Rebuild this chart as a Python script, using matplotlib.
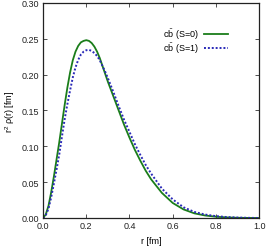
"""r^2 rho(r) density profiles for the two spin states."""

import matplotlib
matplotlib.use("Agg")
import matplotlib.pyplot as plt

plt.rcParams["font.family"] = ["Liberation Sans", "DejaVu Sans"]
plt.rcParams["mathtext.fontset"] = "custom"
plt.rcParams["mathtext.rm"] = "Liberation Sans"
plt.rcParams["mathtext.it"] = "Liberation Sans:italic"

r_fm = [0.0, 0.0125, 0.025, 0.0375, 0.05, 0.0625, 0.075, 0.0875, 0.1, 0.1125,
        0.125, 0.1375, 0.15, 0.1625, 0.175, 0.1875, 0.2, 0.2125, 0.225,
        0.2375, 0.25, 0.2625, 0.275, 0.2875, 0.3, 0.325, 0.35, 0.375, 0.4,
        0.425, 0.45, 0.475, 0.5, 0.55, 0.6, 0.65, 0.7, 0.75, 0.8, 0.85, 0.9,
        0.95, 1.0]

density_s0 = [0.0, 0.005, 0.017, 0.036, 0.058, 0.082, 0.106, 0.132, 0.158,
              0.182, 0.203, 0.220, 0.232, 0.240, 0.245, 0.247, 0.248, 0.247,
              0.244, 0.239, 0.232, 0.223, 0.212, 0.201, 0.190, 0.170, 0.150,
              0.130, 0.112, 0.095, 0.080, 0.066, 0.054, 0.035, 0.021, 0.012,
              0.0065, 0.0035, 0.0018, 0.0008, 0.0003, 0.0001, 0.0]

density_s1 = [0.0, 0.004, 0.013, 0.029, 0.048, 0.068, 0.089, 0.114, 0.138,
              0.159, 0.178, 0.196, 0.210, 0.2205, 0.228, 0.232, 0.234, 0.2345,
              0.233, 0.230, 0.226, 0.220, 0.212, 0.204, 0.195, 0.176, 0.156,
              0.137, 0.120, 0.103, 0.088, 0.074, 0.062, 0.041, 0.026, 0.015,
              0.0085, 0.0048, 0.0026, 0.0013, 0.0006, 0.0002, 0.0]

labels = ["c$\\bar{\\rm b}$ (S=0)", "c$\\bar{\\rm b}$ (S=1)"]

fig = plt.figure(figsize=(2.66, 2.51), dpi=100)
ax = fig.add_axes([0.162, 0.1275, 0.812, 0.857])

ax.plot(r_fm, density_s0, color="#1a7d1a", linewidth=1.3, label=labels[0])
ax.plot(r_fm, density_s1, color="#2a2ab8", linewidth=1.4,
        linestyle=(0, (1, 1)), label=labels[1])

ax.set_xlim(0, 1.0)
ax.set_ylim(0, 0.30)
ax.set_xticks([0.0, 0.2, 0.4, 0.6, 0.8, 1.0])
ax.set_yticks([0.0, 0.05, 0.10, 0.15, 0.20, 0.25, 0.30])
ax.xaxis.set_major_formatter(matplotlib.ticker.FormatStrFormatter("%.1f"))
ax.yaxis.set_major_formatter(matplotlib.ticker.FormatStrFormatter("%.2f"))
ax.tick_params(direction="in", top=True, right=True, length=3, width=0.6,
               labelsize=6.5, pad=2.5, colors="#333333", labelcolor="#222222")
for spine in ax.spines.values():
    spine.set_linewidth(0.9)
    spine.set_color("#222222")

ax.set_xlabel("r [fm]", fontsize=6.5, labelpad=4)
ax.set_ylabel("r$^{2}$ ρ(r) [fm]", fontsize=6.5, labelpad=4)

ax.legend(loc="upper right", bbox_to_anchor=(0.875, 0.91), frameon=False,
          markerfirst=False, fontsize=6.5, handlelength=2.6,
          handletextpad=0.6, labelspacing=-0.1, borderpad=0)

fig.savefig("out.png", dpi=100)
